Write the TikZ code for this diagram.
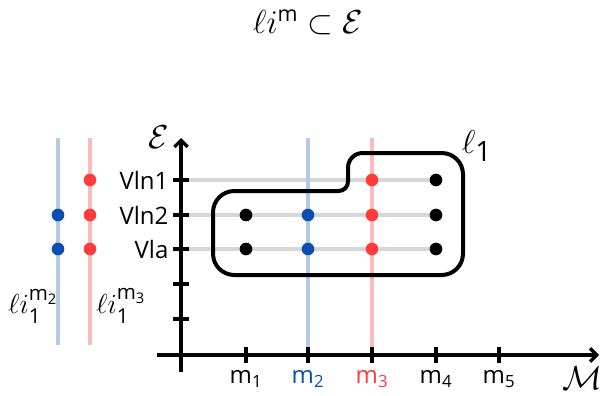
\documentclass[tikz,border=0pt]{standalone}
\usepackage{amsmath}
\usepackage{fontspec}
\setmainfont{Open Sans}
\usetikzlibrary{arrows.meta}
\definecolor{dotblue}{HTML}{0B4DB0}
\definecolor{dotred}{HTML}{FF3B3B}
\definecolor{lineblue}{HTML}{B2C9E8}
\definecolor{linered}{HTML}{FCBBBB}
\definecolor{gridgray}{HTML}{D6D6D6}

\begin{document}
\begin{tikzpicture}[x=0.75pt, y=-0.75pt, >={Straight Barb[length=5pt, width=10pt, line width=2.4pt]},
  every node/.style={font=\fontsize{18}{20}\selectfont, inner sep=1pt},
  axis/.style={line width=2.7pt},
  tickmark/.style={line width=2.5pt},
  gridline/.style={line width=2.6pt, gridgray},
  memline/.style={line width=2.6pt, #1},
  dot/.style={circle, inner sep=0pt, minimum size=9.5pt, fill=#1},
  blob/.style={line width=3pt, rounded corners=16pt}]
  \useasboundingbox (0,0) rectangle (601,396);

  % title
  \node[font=\fontsize{23}{26}\selectfont] (title) at (308,22) {$\ell i^{\text{m}} \subset \mathcal{E}$};

  % axes
  \coordinate (xstart) at (157,355);
  \coordinate (xend) at (599,355);
  \coordinate (ystart) at (181,372);
  \coordinate (yend) at (181,138);

  % grid rows up to m4
  \foreach \name/\y in {vlnone/180, vlntwo/215, vla/249} {
    \coordinate (row\name) at (181,\y);
    \coordinate (end\name) at (436,\y);
    \draw[gridline] (row\name) -- (end\name);
  }

  % highlighted columns
  \coordinate (mtwotop) at (308,138);
  \coordinate (mthreetop) at (372,138);
  \coordinate (mtwobot) at (308,355);
  \coordinate (mthreebot) at (372,355);
  \draw[memline=lineblue] (mtwotop) -- (mtwobot);
  \draw[memline=linered] (mthreetop) -- (mthreebot);

  \draw[axis, ->] (xstart) -- (xend);
  \draw[axis, ->] (ystart) -- (yend);
  \foreach \y in {180, 215, 249, 284, 319}
    \draw[tickmark] (173,\y) -- (189,\y);
  \foreach \x in {246, 308, 372, 436, 499}
    \draw[tickmark] (\x,347) -- (\x,363);

  \node[font=\fontsize{23}{24}\selectfont] (elabel) at (159,137) {$\mathcal{E}$};
  \node[font=\fontsize{24}{26}\selectfont] (mlabel) at (582,378) {$\mathcal{M}$};

  \node[anchor=east] (vlnone) at (170,180) {Vln1};
  \node[anchor=east] (vlntwo) at (170,215) {Vln2};
  \node[anchor=east] (vla) at (170,249) {Vla};

  \node[anchor=base] (mone) at (246,383) {m\textsubscript{1}};
  \node[anchor=base, text=dotblue] (mtwo) at (308,383) {m\textsubscript{2}};
  \node[anchor=base, text=dotred] (mthree) at (372,383) {m\textsubscript{3}};
  \node[anchor=base] (mfour) at (436,383) {m\textsubscript{4}};
  \node[anchor=base] (mfive) at (499,383) {m\textsubscript{5}};

  % l_1
  \draw[blob] (213,233) -- (213,191) [rounded corners=7pt] -- (348,191) [rounded corners=11pt] -- (348,153) [rounded corners=16pt] -- (463,153) -- (463,275) -- (213,275) -- cycle;
  \node[font=\fontsize{30}{32}\selectfont] (lone) at (477,146) {$\ell_{\text{1}}$};

  % instruments
  \node[dot=black] (a1) at (246,215) {};
  \node[dot=black] (a2) at (246,249) {};
  \node[dot=dotblue] (b1) at (308,215) {};
  \node[dot=dotblue] (b2) at (308,249) {};
  \node[dot=dotred] (c0) at (372,180) {};
  \node[dot=dotred] (c1) at (372,215) {};
  \node[dot=dotred] (c2) at (372,249) {};
  \node[dot=black] (d0) at (436,180) {};
  \node[dot=black] (d1) at (436,215) {};
  \node[dot=black] (d2) at (436,249) {};

  % projections
  \coordinate (ptwotop) at (58,138);
  \coordinate (ptwobot) at (58,345);
  \coordinate (pthreetop) at (90,138);
  \coordinate (pthreebot) at (90,345);
  \draw[memline=lineblue] (ptwotop) -- (ptwobot);
  \draw[memline=linered] (pthreetop) -- (pthreebot);
  \node[dot=dotblue] (p1) at (58,215) {};
  \node[dot=dotblue] (p2) at (58,249) {};
  \node[dot=dotred] (q0) at (90,180) {};
  \node[dot=dotred] (q1) at (90,215) {};
  \node[dot=dotred] (q2) at (90,249) {};
  \node[font=\fontsize{22}{24}\selectfont] (ptwo) at (33,306) {$\ell i^{\text{m}_{\text{2}}}_{\text{1}}$};
  \node[font=\fontsize{22}{24}\selectfont] (pthree) at (121,306) {$\ell i^{\text{m}_{\text{3}}}_{\text{1}}$};
\end{tikzpicture}
\end{document}
